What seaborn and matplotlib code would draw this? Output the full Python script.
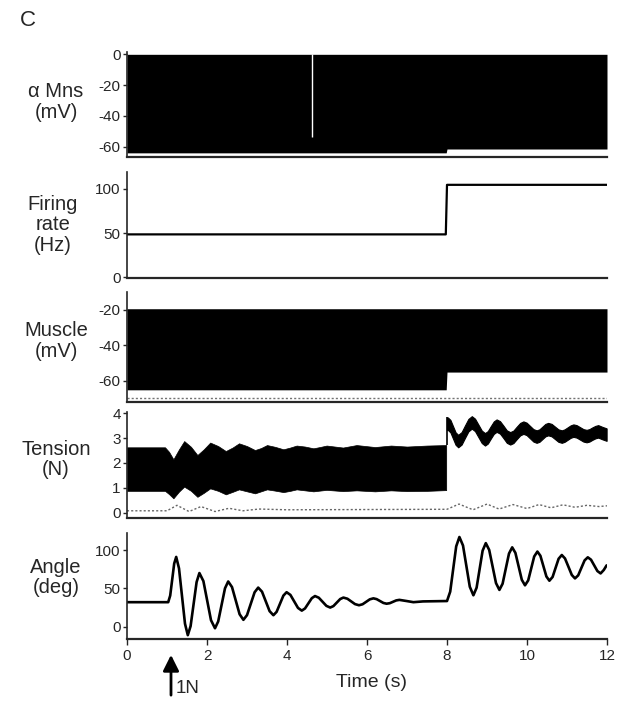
import numpy as np
import pandas as pd
import matplotlib
matplotlib.use("Agg")
import matplotlib.pyplot as plt
import seaborn as sns

# ---- data ----
step_time = 8.0          # second step of drive (s)
push_time = 1.1          # 1N push (s)

# alpha motoneuron membrane potential: dense spiking band (mV)
mns_t = [0.0, 7.98, 8.0, 12.0]
mns_top = [0.0, 0.0, 0.0, 0.0]
mns_bottom = [-64.0, -64.0, -61.5, -61.5]
mns_gap_t = 4.62
mns_gap = [-54.0, 0.0]

# firing rate (Hz)
rate_t = [0.0, 7.97, 8.0, 12.0]
rate_hz = [48.5, 48.5, 104.5, 104.5]

# muscle potential band (mV) and its resting trace
muscle_t = [0.0, 7.98, 8.0, 12.0]
muscle_top = [-19.3, -19.3, -19.3, -19.3]
muscle_bottom = [-65.0, -65.0, -55.0, -55.0]
muscle_rest_t = [0.0, 12.0]
muscle_rest = [-69.7, -69.7]

# tension envelopes (N), before the step
tens_pre_t = [0.0, 0.95, 1.05, 1.16, 1.30, 1.43, 1.60, 1.76, 1.92, 2.08,
              2.28, 2.47, 2.64, 2.80, 3.00, 3.20, 3.35, 3.50, 3.70, 3.91,
              4.08, 4.24, 4.45, 4.66, 4.82, 4.99, 5.40, 5.74, 6.20, 6.60,
              7.00, 7.50, 7.98]
tens_pre_up = [2.63, 2.63, 2.45, 2.15, 2.55, 2.88, 2.65, 2.32, 2.55, 2.82,
               2.68, 2.48, 2.62, 2.79, 2.68, 2.52, 2.60, 2.72, 2.65, 2.55,
               2.62, 2.70, 2.66, 2.59, 2.64, 2.70, 2.62, 2.72, 2.64, 2.70,
               2.66, 2.70, 2.72]
tens_pre_lo = [0.88, 0.88, 0.75, 0.58, 0.85, 1.05, 0.88, 0.64, 0.80, 0.98,
               0.88, 0.74, 0.84, 0.94, 0.86, 0.78, 0.86, 0.94, 0.89, 0.83,
               0.88, 0.94, 0.90, 0.86, 0.89, 0.92, 0.87, 0.90, 0.86, 0.90,
               0.87, 0.88, 0.91]
# after the step: centre of the thick oscillating trace and its thickness
tens_post_t = [8.0, 8.02, 8.085, 8.15, 8.215, 8.28, 8.365, 8.45, 8.535, 8.62,
               8.70, 8.785, 8.87, 8.95, 9.02, 9.095, 9.17, 9.24, 9.325, 9.41,
               9.495, 9.58, 9.66, 9.745, 9.83, 9.91, 9.99, 10.075, 10.16,
               10.24, 10.31, 10.385, 10.46, 10.53, 10.615, 10.70, 10.785,
               10.87, 10.94, 11.015, 11.09, 11.16, 11.24, 11.325, 11.41,
               11.49, 11.56, 11.635, 11.71, 11.78, 11.885, 11.99]
tens_post_mid = [3.58, 3.58, 3.48, 3.23, 2.98, 2.88, 2.99, 3.26, 3.52, 3.63,
                 3.53, 3.29, 3.05, 2.95, 3.03, 3.23, 3.42, 3.50, 3.43, 3.25,
                 3.06, 2.99, 3.05, 3.21, 3.36, 3.42, 3.37, 3.24, 3.11,
                 3.06, 3.10, 3.21, 3.32, 3.36, 3.32, 3.21, 3.10,
                 3.06, 3.10, 3.18, 3.26, 3.30, 3.27, 3.19, 3.11,
                 3.08, 3.11, 3.18, 3.24, 3.27, 3.20, 3.14]
tens_post_width = 0.5
tens_rest_t = [0.0, 1.0, 1.25, 1.55, 1.85, 2.2, 2.55, 2.9, 3.3, 4.0, 6.0, 8.0,
               8.3, 8.65, 9.0, 9.3, 9.65, 10.0, 10.3, 10.6, 10.9, 11.2, 11.5,
               11.8, 12.0]
tens_rest = [0.08, 0.08, 0.30, 0.05, 0.25, 0.05, 0.18, 0.08, 0.15, 0.12, 0.13,
             0.14, 0.35, 0.12, 0.35, 0.15, 0.33, 0.17, 0.33, 0.20, 0.32, 0.22,
             0.30, 0.25, 0.28]

# joint angle (deg)
angle_t = [0.0, 1.03, 1.08, 1.13, 1.18, 1.23, 1.30, 1.375, 1.45, 1.52,
           1.59, 1.665, 1.74, 1.81, 1.91, 2.005, 2.10, 2.20, 2.28, 2.365,
           2.45, 2.53, 2.625, 2.72, 2.815, 2.91, 3.0, 3.095, 3.19, 3.28,
           3.375, 3.47, 3.565, 3.66, 3.74, 3.825, 3.91, 3.99, 4.085, 4.18,
           4.275, 4.37, 4.45, 4.535, 4.62, 4.70, 4.795, 4.89, 4.985, 5.08,
           5.16, 5.245, 5.33, 5.41, 5.51, 5.605, 5.70, 5.80, 5.89, 5.98,
           6.07, 6.16, 6.24, 6.325, 6.41, 6.49, 6.57, 6.65, 6.73, 6.81,
           6.99, 7.16, 7.40, 8.00, 8.08, 8.155, 8.23, 8.31, 8.40, 8.485,
           8.57, 8.66, 8.74, 8.815, 8.89, 8.97, 9.055, 9.14, 9.225, 9.31,
           9.39, 9.47, 9.55, 9.63, 9.71, 9.79, 9.87, 9.95, 10.03, 10.105,
           10.18, 10.26, 10.335, 10.41, 10.485, 10.56, 10.64, 10.715, 10.79,
           10.87, 10.95, 11.035, 11.12, 11.20, 11.28, 11.36, 11.44, 11.52,
           11.60, 11.68, 11.76, 11.84, 11.92, 11.99]
angle_deg = [32, 32, 40.6, 61.5, 82.4, 91, 76.1, 40, 3.9, -11,
             0.8, 29.5, 58.2, 70, 59.5, 34, 8.5, -2, 6.9, 28.5,
             50.1, 59, 51.7, 34, 16.3, 9, 15.1, 30, 44.9, 51,
             45.7, 33, 20.3, 15, 19.4, 30, 40.6, 45, 41.5, 33,
             24.5, 21, 23.8, 30.5, 37.2, 40, 37.8, 32.5, 27.2, 25,
             26.9, 31.5, 36.1, 38, 36.5, 33, 29.5, 28, 29.3, 32.5,
             35.7, 37, 36, 33.5, 31, 30, 30.7, 32.5, 34.3, 35,
             33.5, 32, 33, 33.5, 45.7, 75.3, 104.8, 117, 105.9, 79,
             52.1, 41, 50.9, 75, 99.1, 109, 100.1, 78.5, 56.9, 48,
             56.1, 75.8, 95.4, 103.5, 96.3, 78.8, 61.2, 54, 60.4, 76,
             91.6, 98, 92.5, 79, 65.5, 60, 64.9, 76.8, 88.6,
             93.5, 89, 78.3, 67.5, 63, 67, 76.8, 86.5, 90.5,
             87.4, 80, 72.6, 69.5, 74, 80]

ylabels = ["\u03b1 Mns\n(mV)", "Firing\nrate\n(Hz)", "Muscle\n(mV)",
           "Tension\n(N)", "Angle\n(deg)"]
yticks = [[0, -20, -40, -60], [0, 50, 100], [-20, -40, -60],
          [0, 1, 2, 3, 4], [0, 50, 100]]
ylims = [(-66.5, 1.7), (-0.8, 119), (-71.7, -9.7), (-0.21, 4.06),
         (-16.4, 122.6)]
xticks = [0, 2, 4, 6, 8, 10, 12]

# ---- style ----
sns.set_style("ticks")
plt.rcParams["font.family"] = ["Liberation Sans", "DejaVu Sans"]
plt.rcParams["axes.unicode_minus"] = False

fig = plt.figure(figsize=(6.17, 7.03), dpi=100)

# axes boxes in figure pixels (top, bottom)
boxes = [(51.7, 156.7), (172, 278), (291.7, 401.7), (411.7, 518),
         (532.7, 639.3)]
H = 703.0
axes = []
for top, bot in boxes:
    ax = fig.add_axes([127 / 617, 1 - bot / H, 480 / 617, (bot - top) / H])
    axes.append(ax)

# panel 1: alpha motoneurons
ax = axes[0]
ax.fill_between(mns_t, mns_bottom, mns_top, color="black", lw=0)
ax.vlines(mns_gap_t, mns_gap[0], mns_gap[1], color="white", lw=1)

# panel 2: firing rate
ax = axes[1]
sns.lineplot(x=rate_t, y=rate_hz, ax=ax, color="black", lw=1.6)

# panel 3: muscle
ax = axes[2]
ax.fill_between(muscle_t, muscle_bottom, muscle_top, color="black", lw=0)
sns.lineplot(x=muscle_rest_t, y=muscle_rest, ax=ax, color="0.45", lw=1,
             linestyle=(0, (1.5, 1.5)))

# panel 4: tension
ax = axes[3]
ax.fill_between(tens_pre_t, tens_pre_lo, tens_pre_up, color="black", lw=0.5)
post_mid = np.array(tens_post_mid)
ax.fill_between(tens_post_t, post_mid - tens_post_width / 2,
                post_mid + tens_post_width / 2, color="black", lw=0.8)
ax.vlines(step_time, tens_pre_up[-1], post_mid[0] + tens_post_width / 2,
          color="black", lw=1.2)
sns.lineplot(x=tens_rest_t, y=tens_rest, ax=ax, color="0.4", lw=1,
             linestyle=(0, (1.5, 1.5)))

# panel 5: angle
ax = axes[4]
sns.lineplot(x=angle_t, y=angle_deg, ax=ax, color="black", lw=1.9,
             solid_joinstyle="round")

for i, ax in enumerate(axes):
    ax.set_xlim(0, 12)
    ax.set_ylim(*ylims[i])
    ax.set_yticks(yticks[i])
    sns.despine(ax=ax)
    ax.spines["left"].set_linewidth(1.2)
    ax.spines["bottom"].set_linewidth(1.6)
    ax.tick_params(axis="y", direction="out", length=3, width=1,
                   labelsize=11, pad=1.5)
    ax.set_ylabel(ylabels[i], rotation=0, fontsize=14.5, ha="center",
                  va="center", linespacing=1.1)
    ax.yaxis.set_label_coords(-0.148, 0.55)
    if i < 4:
        ax.set_xticks([])
    else:
        ax.set_xticks(xticks)
        ax.tick_params(axis="x", direction="out", length=4, width=1,
                       labelsize=11, pad=3)
        ax.set_xlabel("Time (s)", fontsize=14, labelpad=0)
        ax.xaxis.set_label_coords(0.51, -0.33)

axes[0].yaxis.set_label_coords(-0.148, 0.52)
axes[1].yaxis.set_label_coords(-0.155, 0.5)
axes[4].yaxis.set_label_coords(-0.148, 0.58)

# 1N push arrow under the time axis
axes[4].annotate("", xy=(push_time, -0.12), xytext=(push_time, -0.55),
                 xycoords=axes[4].get_xaxis_transform(),
                 arrowprops=dict(arrowstyle="-|>", lw=2, color="black",
                                 mutation_scale=24), annotation_clip=False)
axes[4].text(push_time + 0.12, -0.46, "1N", fontsize=13.5,
             transform=axes[4].get_xaxis_transform(), va="center", ha="left")

fig.text(20 / 617, 1 - 21 / H, "C", fontsize=16, va="center", ha="left")

fig.savefig("out.png", dpi=100)
